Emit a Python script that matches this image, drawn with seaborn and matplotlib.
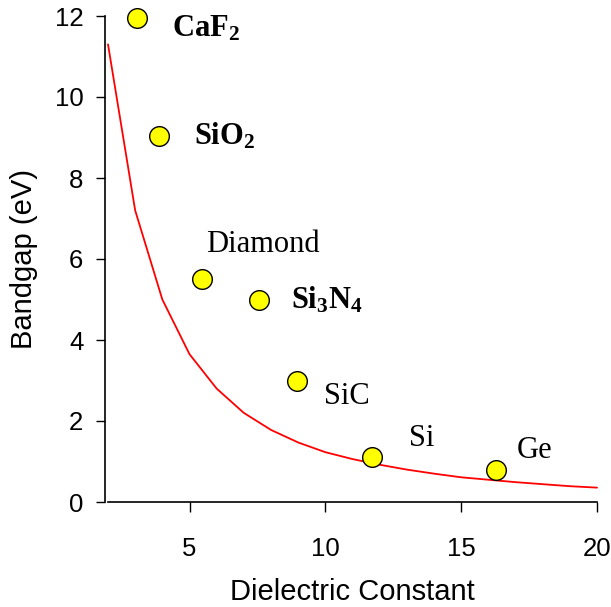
import matplotlib
matplotlib.use("Agg")
import matplotlib.pyplot as plt
import seaborn as sns
import pandas as pd

# Materials (scatter points)
materials = ["CaF2", "SiO2", "Diamond", "Si3N4", "SiC", "Si", "Ge"]
dielectric = [3.06, 3.88, 5.45, 7.56, 8.94, 11.73, 16.28]
bandgap = [11.95, 9.04, 5.51, 5.0, 3.0, 1.1, 0.79]

# Red trend curve
curve_eps = [2, 3, 4, 5, 6, 7, 8, 9, 10, 11, 12, 13, 14, 15, 16, 17, 18, 19, 20]
curve_gap = [11.3, 7.2, 5.0, 3.65, 2.8, 2.2, 1.78, 1.47, 1.23, 1.06, 0.92, 0.80,
             0.70, 0.61, 0.55, 0.49, 0.44, 0.39, 0.355]

labels = [r"$\mathbf{CaF_2}$", r"$\mathbf{SiO_2}$", "Diamond", r"$\mathbf{Si_3N_4}$",
          "SiC", "Si", "Ge"]
bold = [True, True, False, True, False, False, False]
x_ticks = [5, 10, 15, 20]
y_ticks = [0, 2, 4, 6, 8, 10, 12]

sns.set_theme(style="white")
plt.rcParams["font.family"] = ["Liberation Sans", "DejaVu Sans"]
plt.rcParams["mathtext.fontset"] = "custom"
plt.rcParams["mathtext.rm"] = "Liberation Serif"
plt.rcParams["mathtext.bf"] = "Liberation Serif:bold"

fig = plt.figure(figsize=(6.11, 6.07), dpi=100)
ax = fig.add_axes([108 / 611, 1 - 502 / 607, (597 - 108) / 611, (502 - 16) / 607])

df_pts = pd.DataFrame({"eps": dielectric, "gap": bandgap, "mat": materials})
df_curve = pd.DataFrame({"eps": curve_eps, "gap": curve_gap})

sns.lineplot(data=df_curve, x="eps", y="gap", ax=ax, color="#ff0000", lw=1.3,
             zorder=2, clip_on=False)
sns.scatterplot(data=df_pts, x="eps", y="gap", ax=ax, s=200, color="#ffff00",
                edgecolor="black", linewidth=1.0, zorder=3, clip_on=False)

offsets = [(35, -18), (35, -9), (4, 27), (32, -9), (27, -23), (37, 11), (21, 12)]
for xv, yv, lab, b, off in zip(dielectric, bandgap, labels, bold, offsets):
    ax.annotate(lab, (xv, yv), xytext=off, textcoords="offset pixels",
                ha="left", va="baseline", fontsize=22,
                family="Liberation Serif", fontweight="bold" if b else "normal",
                color="black", annotation_clip=False)

ax.set_xlim(2, 20)
ax.set_ylim(0, 12)
ax.set_xticks(x_ticks)
ax.set_yticks(y_ticks)
ax.set_xticklabels([str(v) for v in x_ticks])
ax.set_yticklabels([str(v) for v in y_ticks])

for s in ["top", "right"]:
    ax.spines[s].set_visible(False)
for s in ["left", "bottom"]:
    ax.spines[s].set_color("black")
    ax.spines[s].set_linewidth(1.2)
ax.spines["left"].set_position(("outward", 2))

ax.tick_params(axis="y", direction="out", length=6.7, width=1.0, pad=9,
               labelsize=18.5, colors="black", left=True)
ax.tick_params(axis="x", direction="out", length=7.2, width=1.0, pad=18,
               labelsize=18.5, colors="black", bottom=True)

ax.set_xlabel("Dielectric Constant", fontsize=21, color="black")
ax.xaxis.set_label_coords(0.5, -(600 - 502) / 486)
ax.xaxis.label.set_va("baseline")
ax.set_ylabel("Bandgap (eV)", fontsize=21, labelpad=12, color="black")

fig.savefig("out.png", dpi=100)
